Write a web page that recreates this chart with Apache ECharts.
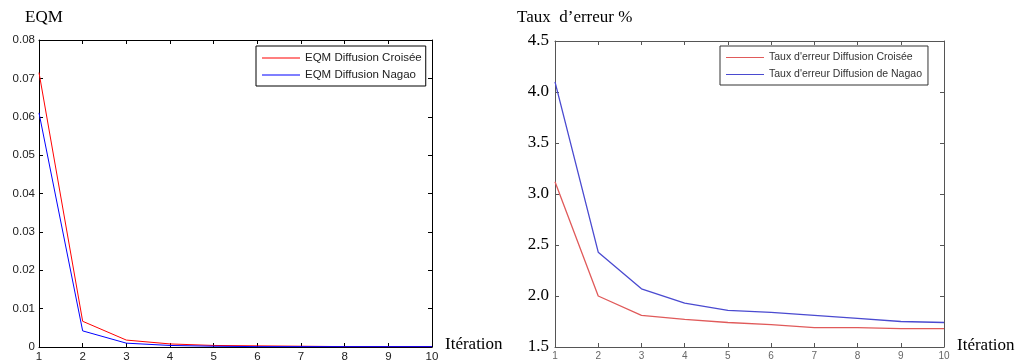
<!DOCTYPE html>
<html>
<head>
<meta charset="utf-8">
<script src="https://cdn.jsdelivr.net/npm/echarts@6/dist/echarts.min.js"></script>
<style>
  html, body { margin: 0; padding: 0; background: #fff; }
  #chart { width: 1019px; height: 363px; }
</style>
</head>
<body>
<div id="chart"></div>
<script>
// iterations shared by both panels
const iterations = [1, 2, 3, 4, 5, 6, 7, 8, 9, 10]

// left panel: EQM
const eqmCroisee = [0.0715, 0.0067, 0.0018, 0.0008, 0.0004, 0.0003, 0.0002, 0.0001, 0.0001, 0.0001]
const eqmNagao = [0.0610, 0.0042, 0.0010, 0.0004, 0.0002, 0.0001, 0.0001, 0.0001, 0.0001, 0.0001]

// right panel: taux d'erreur %
const tauxCroisee = [3.12, 2.00, 1.81, 1.77, 1.74, 1.72, 1.69, 1.69, 1.68, 1.68]
const tauxNagao = [4.10, 2.43, 2.07, 1.93, 1.86, 1.84, 1.81, 1.78, 1.75, 1.74]

const serif = '"Liberation Serif", "DejaVu Serif", serif'
const sans = '"Liberation Sans", Arial, sans-serif'

const pair = (xs, ys) => xs.map((x, i) => [x, ys[i]])

const chart = echarts.init(document.getElementById('chart'))

const boxX = (gridIndex, color, labelStyle) => ([
  {
    type: 'value', gridIndex, min: 1, max: 10, interval: 1,
    axisLine: { show: true, onZero: false, lineStyle: { color, width: 1 } },
    axisTick: { show: true, inside: true, length: 4, lineStyle: { color } },
    axisLabel: Object.assign({ margin: 4 }, labelStyle),
    splitLine: { show: false }
  },
  {
    type: 'value', gridIndex, min: 1, max: 10, interval: 1, position: 'top',
    axisLine: { show: true, onZero: false, lineStyle: { color, width: 1 } },
    axisTick: { show: true, inside: true, length: 4, lineStyle: { color } },
    axisLabel: { show: false },
    splitLine: { show: false }
  }
])

const boxY = (gridIndex, color, min, max, interval, labelStyle) => ([
  {
    type: 'value', gridIndex, min, max, interval,
    axisLine: { show: true, onZero: false, lineStyle: { color, width: 1 } },
    axisTick: { show: true, inside: true, length: 4, lineStyle: { color } },
    axisLabel: labelStyle,
    splitLine: { show: false }
  },
  {
    type: 'value', gridIndex, min, max, interval, position: 'right',
    axisLine: { show: true, onZero: false, lineStyle: { color, width: 1 } },
    axisTick: { show: true, inside: true, length: 4, lineStyle: { color } },
    axisLabel: { show: false },
    splitLine: { show: false }
  }
])

const option = {
  animation: false,
  backgroundColor: '#fff',
  grid: [
    { left: 39, top: 40, width: 393, height: 307 },
    { left: 555, top: 41, width: 389, height: 306 }
  ],
  title: [
    { text: 'EQM', left: 20, top: 4, textStyle: { fontFamily: serif, fontSize: 17, fontWeight: 'normal', color: '#000' } },
    { text: 'Taux  d\u2019erreur %', left: 512, top: 4, textStyle: { fontFamily: serif, fontSize: 17, fontWeight: 'normal', color: '#000' } },
    { text: 'Itération', left: 440, top: 331, textStyle: { fontFamily: serif, fontSize: 17, fontWeight: 'normal', color: '#000' } },
    { text: 'Itération', left: 952, top: 332, textStyle: { fontFamily: serif, fontSize: 17, fontWeight: 'normal', color: '#000' } }
  ],
  legend: [
    {
      data: ['EQM Diffusion Croisée', 'EQM Diffusion Nagao'],
      orient: 'vertical', left: 256, top: 46,
      itemWidth: 38, itemHeight: 1, itemGap: 5,
      padding: [6, 4, 5, 6],
      borderColor: '#000', borderWidth: 1, backgroundColor: '#fff',
      textStyle: { fontFamily: sans, fontSize: 11.5, color: '#222' },
      icon: 'rect'
    },
    {
      data: ['Taux d\'erreur Diffusion Croisée', 'Taux d\'erreur Diffusion de Nagao'],
      orient: 'vertical', left: 720, top: 46,
      itemWidth: 38, itemHeight: 1, itemGap: 6,
      padding: [6, 6, 5, 6],
      borderColor: '#333', borderWidth: 1, backgroundColor: '#fff',
      textStyle: { fontFamily: sans, fontSize: 10.5, color: '#333' },
      icon: 'rect'
    }
  ],
  xAxis: [
    ...boxX(0, '#000', { fontFamily: sans, fontSize: 11.5, color: '#222' }),
    ...boxX(1, '#555', { fontFamily: sans, fontSize: 10, color: '#666' })
  ],
  yAxis: [
    ...boxY(0, '#000', 0, 0.08, 0.01, {
      fontFamily: sans, fontSize: 11.5, color: '#222', margin: 4,
      formatter: v => (v === 0 ? '0' : v.toFixed(2))
    }),
    ...boxY(1, '#555', 1.5, 4.5, 0.5, {
      fontFamily: serif, fontSize: 17, color: '#000', margin: 6,
      formatter: v => v.toFixed(1)
    })
  ],
  series: [
    {
      name: 'EQM Diffusion Croisée', type: 'line', xAxisIndex: 0, yAxisIndex: 0,
      data: pair(iterations, eqmCroisee), showSymbol: false,
      lineStyle: { color: '#ff0000', width: 1 }, itemStyle: { color: '#ff0000' }
    },
    {
      name: 'EQM Diffusion Nagao', type: 'line', xAxisIndex: 0, yAxisIndex: 0,
      data: pair(iterations, eqmNagao), showSymbol: false,
      lineStyle: { color: '#0000ff', width: 1 }, itemStyle: { color: '#0000ff' }
    },
    {
      name: 'Taux d\'erreur Diffusion Croisée', type: 'line', xAxisIndex: 2, yAxisIndex: 2,
      data: pair(iterations, tauxCroisee), showSymbol: false,
      lineStyle: { color: '#e05a5a', width: 1.3 }, itemStyle: { color: '#e05a5a' }
    },
    {
      name: 'Taux d\'erreur Diffusion de Nagao', type: 'line', xAxisIndex: 2, yAxisIndex: 2,
      data: pair(iterations, tauxNagao), showSymbol: false,
      lineStyle: { color: '#4a4ad0', width: 1.3 }, itemStyle: { color: '#4a4ad0' }
    }
  ]
}

chart.setOption(option)
</script>
</body>
</html>
